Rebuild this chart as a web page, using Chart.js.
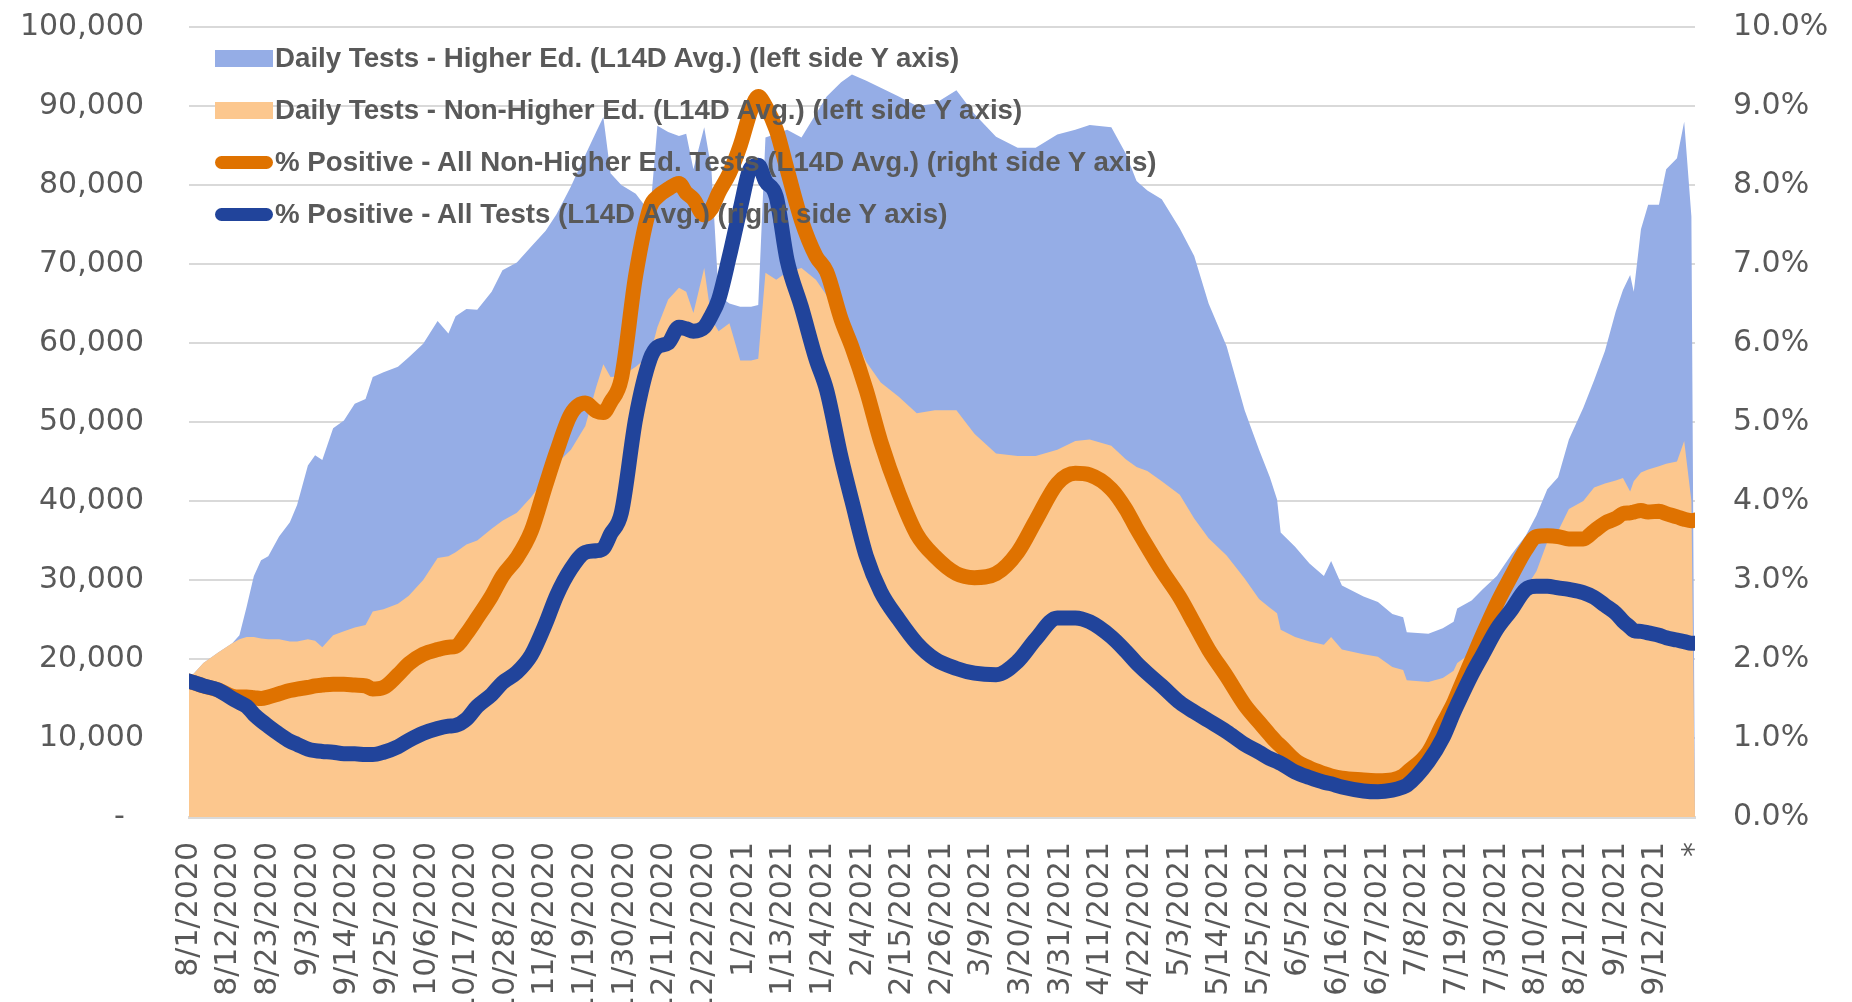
<!DOCTYPE html>
<html>
<head>
<meta charset="utf-8">
<script src="https://cdn.jsdelivr.net/npm/chart.js@4.4.1/dist/chart.umd.min.js"></script>
<style>
  html, body { margin: 0; padding: 0; background: #fff; }
  #wrap { position: relative; width: 1852px; height: 1002px; overflow: hidden; }
  #legend { position: absolute; left: 215px; top: 32px; font-family: 'Liberation Sans'; font-weight: bold; font-size: 27.7px; color: #595959; }
  .row { display: flex; align-items: center; height: 52px; white-space: nowrap; }
  .mk { width: 58px; margin-right: 2px; flex: none; }
  .mk.area { height: 17px; }
  .mk.line { height: 13px; border-radius: 7px; }
</style>
</head>
<body>
<div id="wrap">
  <canvas id="testsChart" width="1852" height="1002"></canvas>
  <div id="legend"></div>
</div>
<script>
// x axis labels, one every 11 days starting 8/1/2020
const xLabels = ['8/1/2020', '8/12/2020', '8/23/2020', '9/3/2020', '9/14/2020', '9/25/2020', '10/6/2020',
  '10/17/2020', '10/28/2020', '11/8/2020', '11/19/2020', '11/30/2020', '12/11/2020', '12/22/2020',
  '1/2/2021', '1/13/2021', '1/24/2021', '2/4/2021', '2/15/2021', '2/26/2021', '3/9/2021', '3/20/2021',
  '3/31/2021', '4/11/2021', '4/22/2021', '5/3/2021', '5/14/2021', '5/25/2021', '6/5/2021', '6/16/2021',
  '6/27/2021', '7/8/2021', '7/19/2021', '7/30/2021', '8/10/2021', '8/21/2021', '9/1/2021', '9/12/2021', '*'];

// day number since 8/1/2020 for each sample
const days = [
  0, 4, 8, 12, 14, 16, 18, 20, 22, 25,
  28, 30, 33, 35, 37, 40, 43, 46, 49, 51,
  54, 58, 61, 65, 69, 72, 74, 77, 80, 84,
  87, 91, 95, 99, 102, 106, 110, 113, 115, 117,
  120, 124, 128, 130, 133, 136, 138, 140, 143, 145,
  147, 150, 153, 156, 158, 160, 163, 166, 170, 174,
  177, 181, 184, 188, 192, 197, 202, 207, 213, 218,
  224, 230, 235, 241, 246, 250, 256, 260, 263, 266,
  270, 275, 279, 283, 288, 293, 297, 300, 302, 303,
  307, 311, 315, 317, 320, 326, 330, 334, 337, 338,
  344, 348, 351, 352, 356, 359, 363, 367, 371, 374,
  377, 380, 383, 387, 390, 393, 396, 398, 400, 401,
  403, 405, 408, 410, 413, 415, 417, 418];

const nonHigherEdTests = [
  17500, 19500, 20800, 22000, 22500, 22800, 22800, 22600, 22500, 22500,
  22200, 22200, 22500, 22300, 21500, 23000, 23500, 24000, 24300, 26000,
  26300, 27000, 28000, 30000, 32800, 33000, 33500, 34500, 35000, 36500,
  37500, 38500, 40500, 43000, 44700, 46500, 49500, 54400, 57300, 55700,
  55800, 57000, 58500, 62000, 65500, 67000, 66500, 63800, 69500, 63000,
  61500, 62500, 57800, 57800, 58000, 68900, 68000, 69000, 69500, 68000,
  66000, 64000, 61500, 57600, 55000, 53200, 51100, 51500, 51500, 48500,
  46000, 45700, 45700, 46500, 47600, 47800, 47000, 45300, 44300, 43800,
  42500, 40800, 37800, 35300, 33100, 30200, 27600, 26500, 25800, 23700,
  22800, 22200, 21800, 22800, 21200, 20600, 20300, 19000, 18600, 17300,
  17100, 17600, 18500, 19500, 20800, 21800, 24000, 26200, 29000, 31100,
  34800, 36200, 39000, 40000, 41700, 42200, 42600, 42900, 41200, 42500,
  43600, 44000, 44400, 44700, 45000, 47600, 40000, 0];

const higherEdTests = [
  0, 0, 0, 0, 500, 3800, 7700, 9900, 10500, 13000,
  15100, 17300, 22000, 23500, 23700, 26200, 26700, 28300, 28600, 29700,
  30000, 30000, 30200, 29900, 30000, 28200, 29900, 29800, 29200, 30000,
  31700, 31700, 31700, 31200, 31600, 33300, 34300, 32300, 31300, 25800,
  24200, 21900, 18000, 25500, 21200, 19200, 20000, 18200, 17800, 19000,
  4500, 2500, 6800, 6800, 6800, 17100, 18500, 18000, 16500, 21000,
  25200, 29000, 32500, 35600, 37300, 38000, 38900, 38800, 40500, 40500,
  40100, 39000, 39000, 39900, 39400, 39800, 40300, 38700, 36200, 35500,
  35700, 33700, 33200, 29700, 26500, 21300, 18900, 16500, 14400, 12300,
  11400, 9900, 8700, 9600, 8100, 7300, 6900, 6700, 6700, 6100,
  6100, 6300, 6200, 6900, 6600, 7000, 6500, 7000, 6600, 7100,
  6700, 6800, 8800, 11800, 13600, 16800, 21400, 23800, 27400, 24000,
  30800, 33500, 33100, 37300, 38400, 40400, 36000, 0];

// percent positive, in %
const pctPosNonHigherEd = [
  1.72, 1.66, 1.61, 1.53, 1.52, 1.52, 1.51, 1.50, 1.52, 1.56,
  1.60, 1.62, 1.64, 1.66, 1.67, 1.68, 1.68, 1.67, 1.66, 1.62,
  1.64, 1.80, 1.94, 2.06, 2.12, 2.15, 2.16, 2.32, 2.52, 2.80,
  3.05, 3.28, 3.62, 4.20, 4.62, 5.10, 5.24, 5.14, 5.12, 5.25,
  5.55, 6.86, 7.72, 7.85, 7.95, 8.02, 7.90, 7.82, 7.62, 7.70,
  7.90, 8.15, 8.50, 8.95, 9.12, 9.00, 8.70, 8.20, 7.55, 7.10,
  6.90, 6.30, 5.95, 5.40, 4.75, 4.10, 3.58, 3.30, 3.08, 3.03,
  3.08, 3.35, 3.75, 4.22, 4.35, 4.33, 4.15, 3.90, 3.65, 3.42,
  3.12, 2.78, 2.45, 2.12, 1.78, 1.42, 1.20, 1.04, 0.94, 0.90,
  0.72, 0.62, 0.55, 0.52, 0.49, 0.47, 0.46, 0.47, 0.52, 0.56,
  0.82, 1.18, 1.44, 1.55, 1.98, 2.30, 2.70, 3.05, 3.38, 3.55,
  3.56, 3.55, 3.52, 3.52, 3.62, 3.72, 3.78, 3.84, 3.85, 3.86,
  3.88, 3.86, 3.87, 3.84, 3.80, 3.77, 3.75, 3.76];

const pctPosAll = [
  1.72, 1.66, 1.61, 1.50, 1.45, 1.40, 1.30, 1.22, 1.15, 1.05,
  0.96, 0.92, 0.86, 0.84, 0.83, 0.82, 0.80, 0.80, 0.79, 0.79,
  0.82, 0.89, 0.97, 1.06, 1.12, 1.15, 1.16, 1.24, 1.40, 1.55,
  1.70, 1.83, 2.05, 2.45, 2.80, 3.14, 3.35, 3.37, 3.40, 3.58,
  3.85, 5.05, 5.80, 5.95, 6.00, 6.20, 6.18, 6.15, 6.20, 6.35,
  6.55, 7.10, 7.70, 8.22, 8.25, 8.05, 7.85, 7.05, 6.45, 5.80,
  5.40, 4.55, 4.00, 3.30, 2.85, 2.50, 2.20, 2.00, 1.88, 1.82,
  1.80, 1.97, 2.25, 2.52, 2.52, 2.47, 2.28, 2.10, 1.95, 1.82,
  1.66, 1.45, 1.33, 1.22, 1.08, 0.92, 0.82, 0.74, 0.70, 0.68,
  0.57, 0.50, 0.44, 0.42, 0.38, 0.33, 0.32, 0.34, 0.38, 0.40,
  0.70, 1.00, 1.32, 1.42, 1.80, 2.05, 2.38, 2.62, 2.88, 2.92,
  2.92, 2.90, 2.88, 2.84, 2.78, 2.68, 2.58, 2.48, 2.40, 2.36,
  2.35, 2.33, 2.30, 2.27, 2.24, 2.22, 2.20, 2.20];

function pairs(values) {
  return days.map((d, i) => ({ x: d, y: values[i] }));
}

const tickFont = { family: 'DejaVu Sans', size: 30 };
const tickColor = '#595959';

// keep the plot box where the reference has it
function noVertPad(s) { s.paddingTop = 0; s.paddingBottom = 0; }

const ctx = document.getElementById('testsChart').getContext('2d');
const chart = new Chart(ctx, {
  type: 'line',
  data: {
    datasets: [{
      label: 'Daily Tests - Higher Ed. (L14D Avg.) (left side Y axis)',
      data: pairs(higherEdTests),
      yAxisID: 'y',
      backgroundColor: '#95ADE6',
      borderWidth: 0,
      fill: 'origin',
      pointRadius: 0,
      tension: 0,
      order: 3,
      legendType: 'area'
    }, {
      label: 'Daily Tests - Non-Higher Ed. (L14D Avg.) (left side Y axis)',
      data: pairs(nonHigherEdTests),
      yAxisID: 'y',
      backgroundColor: '#FCC78E',
      borderWidth: 0,
      fill: 'origin',
      pointRadius: 0,
      tension: 0,
      order: 2,
      legendType: 'area'
    }, {
      label: '% Positive - All Non-Higher Ed. Tests (L14D Avg.) (right side Y axis)',
      data: pairs(pctPosNonHigherEd),
      yAxisID: 'y1',
      borderColor: '#DF7200',
      backgroundColor: '#DF7200',
      borderWidth: 15,
      borderCapStyle: 'round',
      borderJoinStyle: 'round',
      cubicInterpolationMode: 'monotone',
      fill: false,
      pointRadius: 0,
      order: 1,
      legendType: 'line'
    }, {
      label: '% Positive - All Tests (L14D Avg.) (right side Y axis)',
      data: pairs(pctPosAll),
      yAxisID: 'y1',
      borderColor: '#21449B',
      backgroundColor: '#21449B',
      borderWidth: 15,
      borderCapStyle: 'round',
      borderJoinStyle: 'round',
      cubicInterpolationMode: 'monotone',
      fill: false,
      pointRadius: 0,
      order: 0,
      legendType: 'line'
    }]
  },
  options: {
    responsive: false,
    animation: false,
    layout: { padding: { top: 27, left: 0, right: 0, bottom: 0 } },
    plugins: {
      legend: { display: false },
      tooltip: { enabled: false }
    },
    scales: {
      x: {
        type: 'linear',
        min: 0,
        max: 418,
        grid: { display: false, drawTicks: false },
        border: { color: '#d9d9d9', width: 3 },
        ticks: {
          stepSize: 11,
          autoSkip: false,
          maxRotation: 90,
          minRotation: 90,
          padding: 25,
          color: tickColor,
          font: tickFont,
          callback: v => xLabels[Math.round(v / 11)]
        },
        afterFit: s => { s.height = 185; s.paddingLeft = 0; s.paddingRight = 0; }
      },
      y: {
        position: 'left',
        stacked: true,
        min: 0,
        max: 100000,
        grid: { color: '#d9d9d9', lineWidth: 2, drawTicks: false },
        border: { display: false },
        ticks: {
          stepSize: 10000,
          padding: 45,
          color: tickColor,
          font: tickFont,
          callback: v => v === 0 ? '-  ' : v.toLocaleString('en-US')
        },
        afterFit: s => { s.width = 189; noVertPad(s); }
      },
      y1: {
        position: 'right',
        min: 0,
        max: 10,
        grid: { display: false, drawTicks: false },
        border: { display: false },
        ticks: {
          stepSize: 1,
          padding: 38,
          color: tickColor,
          font: tickFont,
          callback: v => v.toFixed(1) + '%'
        },
        afterFit: s => { s.width = 157; noVertPad(s); }
      }
    }
  }
});

// legend drawn inside the plot, top left
const legendEl = document.getElementById('legend');
chart.data.datasets.forEach(ds => {
  const row = document.createElement('div');
  row.className = 'row';
  const mk = document.createElement('span');
  mk.className = 'mk ' + ds.legendType;
  mk.style.background = ds.legendType === 'area' ? ds.backgroundColor : ds.borderColor;
  const txt = document.createElement('span');
  txt.textContent = ds.label;
  row.appendChild(mk);
  row.appendChild(txt);
  legendEl.appendChild(row);
});
</script>
</body>
</html>
